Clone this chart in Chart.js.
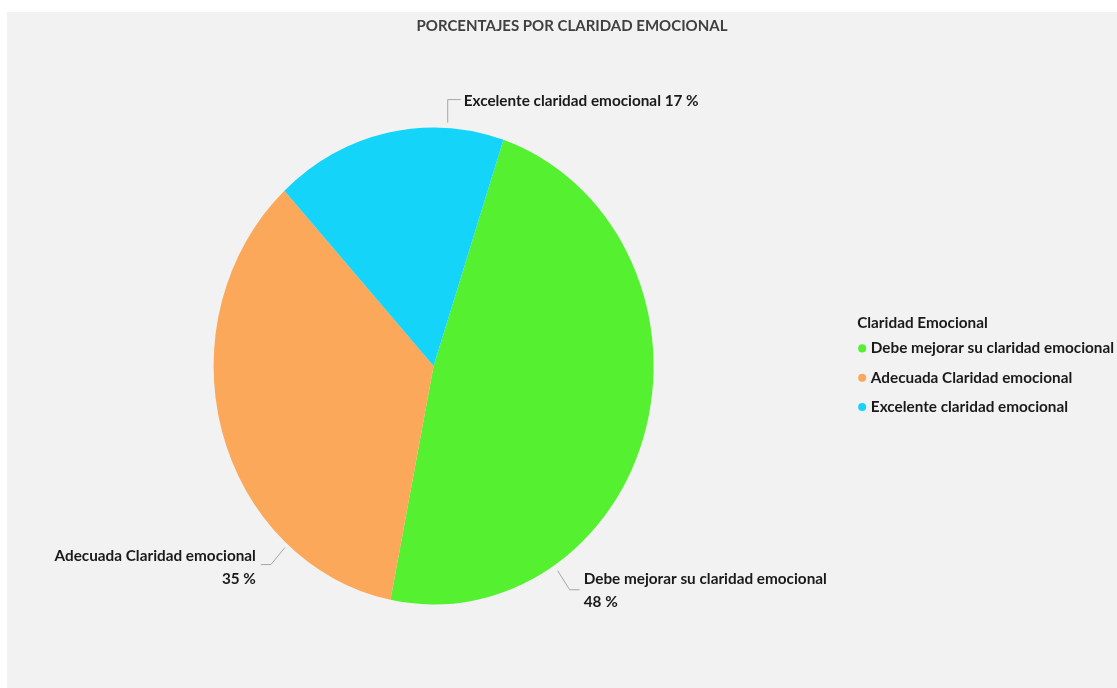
<!DOCTYPE html>
<html>
<head>
<meta charset="utf-8">
<script src="https://cdn.jsdelivr.net/npm/chart.js@4"></script>
<style>
  html, body { margin: 0; padding: 0; background: #ffffff; }
  #wrap { position: relative; width: 1117px; height: 688px; }
</style>
</head>
<body>
<div id="wrap"><canvas id="claridad"></canvas></div>
<script>
const categorias = ['Debe mejorar su claridad emocional', 'Adecuada Claridad emocional', 'Excelente claridad emocional'];
const porcentajes = [48, 35, 17];
const colores = ['#55f030', '#fba85a', '#14d4fa'];
const tituloLeyenda = 'Claridad Emocional';

const fuente = { family: 'Lato', size: 15.3, weight: 'bold' };

// fondo gris del panel
const fondo = {
    id: 'fondo',
    beforeDraw(chart) {
        const ctx = chart.ctx;
        ctx.save();
        ctx.fillStyle = '#f2f2f2';
        ctx.fillRect(7, 12, chart.width - 7, chart.height - 12);
        ctx.restore();
    }
};

// estira el pastel en vertical
const elipse = {
    id: 'elipse',
    beforeDatasetsDraw(chart, args, opts) {
        const a = chart.chartArea;
        const cx = (a.left + a.right) / 2, cy = (a.top + a.bottom) / 2;
        const ctx = chart.ctx;
        ctx.save();
        ctx.translate(cx, cy);
        ctx.scale(1, opts.sy);
        ctx.translate(-cx, -cy);
    },
    afterDatasetsDraw(chart) {
        chart.ctx.restore();
    }
};

// etiquetas con lineas guia y titulo de la leyenda
const etiquetas = {
    id: 'etiquetas',
    afterDraw(chart, args, opts) {
        const ctx = chart.ctx;
        const meta = chart.getDatasetMeta(0);
        const sy = chart.options.plugins.elipse.sy;
        ctx.save();
        ctx.font = `bold ${fuente.size}px ${fuente.family}`;
        ctx.textBaseline = 'middle';
        meta.data.forEach((arc, i) => {
            const p = arc.getProps(['x', 'y', 'outerRadius'], true);
            const g = opts.guias[i];
            const r = p.outerRadius + g.gap;
            const ang = g.angulo * Math.PI / 180;
            const x0 = p.x + r * Math.sin(ang);
            const y0 = p.y - r * Math.cos(ang) * sy;
            const x1 = x0 + g.codo[0], y1 = y0 + g.codo[1];
            const x2 = x0 + g.fin[0], y2 = y0 + g.fin[1];
            ctx.strokeStyle = '#a6a6a6';
            ctx.lineWidth = 1;
            ctx.beginPath();
            ctx.moveTo(x0, y0);
            ctx.lineTo(x1, y1);
            ctx.lineTo(x2, y2);
            ctx.stroke();
            ctx.fillStyle = '#1a1a1a';
            ctx.textAlign = g.alinear;
            const val = porcentajes[i] + ' %';
            const tx = x2 + g.texto[0];
            if (g.lineas === 1) {
                ctx.fillText(categorias[i] + ' ' + val, tx, y2 + g.texto[1]);
            } else {
                ctx.fillText(categorias[i], tx, y2 + g.texto[1]);
                ctx.fillText(val, tx, y2 + g.texto[1] + 23);
            }
        });
        // titulo alineado con los puntos de la leyenda
        const hb = chart.legend.legendHitBoxes[0];
        if (hb) {
            ctx.fillStyle = '#1a1a1a';
            ctx.textAlign = 'left';
            ctx.fillText(tituloLeyenda, hb.left - 4, hb.top + hb.height / 2 - 25);
        }
        ctx.restore();
    }
};

new Chart(document.getElementById('claridad'), {
    type: 'pie',
    data: {
        labels: categorias,
        datasets: [{
            data: porcentajes,
            backgroundColor: colores,
            borderWidth: 0
        }]
    },
    options: {
        responsive: true,
        maintainAspectRatio: false,
        animation: false,
        rotation: 18.5,
        layout: { padding: { left: 20, right: -7, top: 0, bottom: 102 } },
        plugins: {
            elipse: { sy: 1.084 },
            etiquetas: {
                guias: [
                    { angulo: 146.7, gap: 6, codo: [12, 19], fin: [22, 19], texto: [4, -11], alinear: 'left', lineas: 2 },
                    { angulo: 221.6, gap: 4, codo: [-14, 17], fin: [-24, 17], texto: [-5, -9], alinear: 'right', lineas: 2 },
                    { angulo: 3.6, gap: 5, codo: [0, -23], fin: [13, -23], texto: [3, 1], alinear: 'left', lineas: 1 }
                ]
            },
            title: {
                display: true,
                text: 'PORCENTAJES POR CLARIDAD EMOCIONAL',
                color: '#404040',
                font: { family: 'Lato', size: 15, weight: 'bold' },
                padding: { top: 17, bottom: 111 }
            },
            legend: {
                position: 'right',
                align: 'center',
                fullSize: false,
                title: {
                    display: true,
                    text: '',
                    font: fuente,
                    padding: { top: 0, bottom: 5 }
                },
                labels: {
                    usePointStyle: true,
                    pointStyle: 'circle',
                    boxWidth: 2,
                    boxHeight: 5.7,
                    padding: 14,
                    color: '#1a1a1a',
                    font: fuente
                }
            },
            tooltip: { enabled: false }
        }
    },
    plugins: [fondo, elipse, etiquetas]
});
</script>
</body>
</html>
